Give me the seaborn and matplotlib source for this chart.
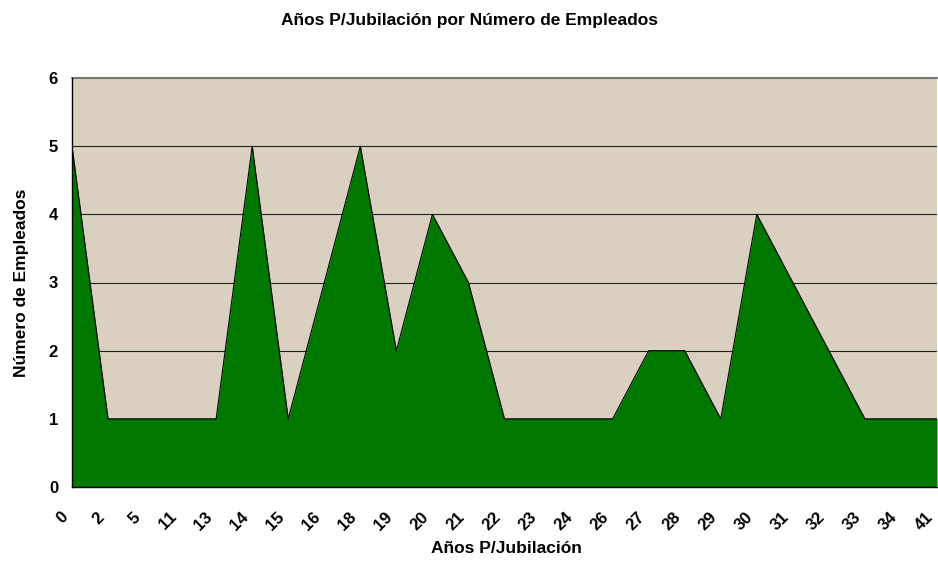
import matplotlib
matplotlib.use("Agg")
import matplotlib.pyplot as plt
import matplotlib.transforms as mtransforms
import seaborn as sns
import numpy as np
import pandas as pd

years = ["0", "2", "5", "11", "13", "14", "15", "16", "18", "19", "20", "21", "22",
         "23", "24", "26", "27", "28", "29", "30", "31", "32", "33", "34", "41"]
employees = [5, 1, 1, 1, 1, 5, 1, 3, 5, 2, 4, 3, 1, 1, 1, 1, 2, 2, 1, 4, 3, 2, 1, 1, 1]

title = "Años P/Jubilación por Número de Empleados"
xlabel = "Años P/Jubilación"
ylabel = "Número de Empleados"
yticks = [0, 1, 2, 3, 4, 5, 6]

sns.set_style("white")
plt.rcParams['font.family'] = ['Liberation Sans', 'DejaVu Sans']
plt.rcParams['text.color'] = 'black'
plt.rcParams['axes.labelcolor'] = 'black'
plt.rcParams['xtick.color'] = 'black'
plt.rcParams['ytick.color'] = 'black'

df = pd.DataFrame({"pos": np.arange(len(years)), "year": years, "n": employees})

fig = plt.figure(figsize=(9.38, 5.61), dpi=100)
ax = fig.add_axes([72/938, 1 - 487/561, 865/938, (487 - 78)/561])
ax.set_facecolor("#d9d0c0")

for y in yticks[1:6]:
    ax.axhline(y, color="#222222", lw=0.8, zorder=1)

ax.fill_between(df["pos"], df["n"], 0, color="#007800", zorder=2, lw=0)
sns.lineplot(data=df, x="pos", y="n", color="black", lw=0.8, ax=ax, zorder=3)

ax.set_xlim(0, len(years) - 1)
ax.set_ylim(0, 6)
ax.set_xticks(df["pos"])
ax.set_yticks(yticks)
ax.tick_params(axis="x", direction="out", length=5, width=1, color="#555555", pad=15)
ax.tick_params(axis="y", direction="out", length=5, width=1, color="#555555", pad=5)
ax.set_xticklabels(years, rotation=45, ha="right", va="center", rotation_mode="anchor",
                   fontsize=12, fontweight="bold", color="black")
ax.set_yticklabels([str(v) for v in yticks], fontsize=12, fontweight="bold", color="black")
offset = mtransforms.ScaledTranslation(-6/100, 0, fig.dpi_scale_trans)
for tick in ax.xaxis.get_major_ticks():
    tick.label1.set_transform(tick.label1.get_transform() + offset)

for s in ["top", "right"]:
    ax.spines[s].set_visible(False)
ax.spines["left"].set_color("black")
ax.spines["bottom"].set_color("black")
ax.spines["left"].set_linewidth(1)
ax.spines["bottom"].set_linewidth(1)
ax.axhline(6, color="#777777", lw=1.5, zorder=1, clip_on=False)

ax.set_xlabel(xlabel, fontsize=12.5, fontweight="bold", color="black")
ax.set_ylabel(ylabel, fontsize=12.5, fontweight="bold", color="black")
ax.xaxis.set_label_coords(0.502, -0.132)
ax.yaxis.set_label_coords(-0.050, 0.5)
fig.suptitle(title, fontsize=12.5, fontweight="bold", y=1 - 21/561, va="center", color="black")

fig.savefig("out.png", dpi=100)
